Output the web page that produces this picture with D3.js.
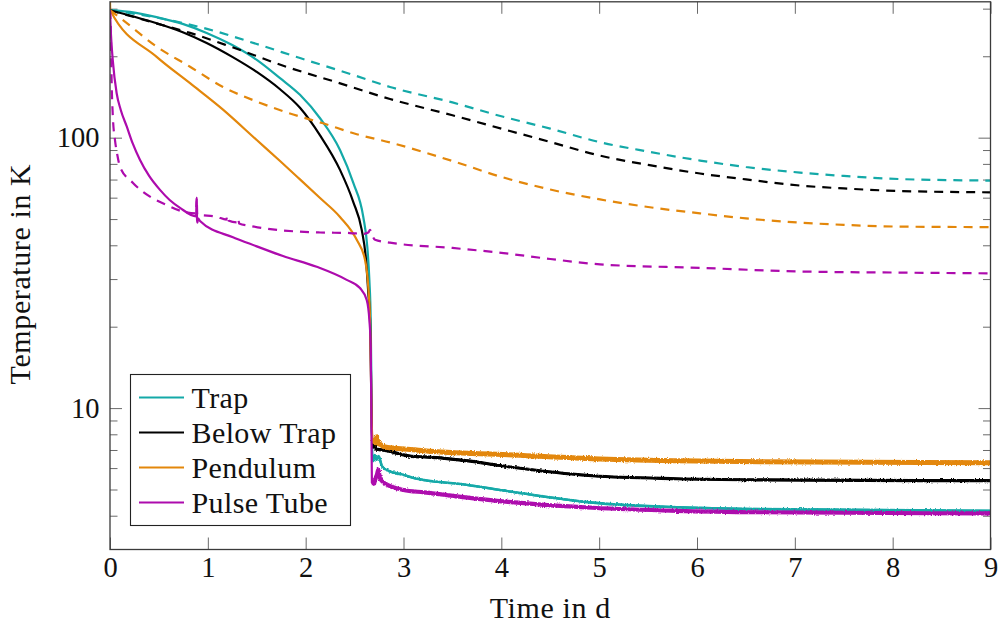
<!DOCTYPE html>
<html>
<head>
<meta charset="utf-8">
<script src="https://cdn.jsdelivr.net/npm/d3@7"></script>
<style>
  body { margin: 0; background: #fff; }
  svg { display: block; }
  text { font-family: "Liberation Serif", "Times New Roman", Times, Tinos, "Noto Serif", "DejaVu Serif", serif; fill: #111; }
</style>
</head>
<body>
<svg id="chart" width="998" height="628"></svg>
<script>
// Cool-down of the cryostat stages: temperature (K) against time (days).
// Solid lines: first run; dashed lines: reference run.

const xTicks = [0, 1, 2, 3, 4, 5, 6, 7, 8, 9];
const yMajorTicks = [10, 100];
const yMinorTicks = [4, 5, 6, 7, 8, 9, 20, 30, 40, 50, 60, 70, 80, 90, 200, 300];
const seriesNames = ["Trap", "Below Trap", "Pendulum", "Pulse Tube"];
const seriesColors = ["#14a9a8", "#000000", "#e3870b", "#ad0bad"];

// [time in d, temperature in K]
const trapSolid = [
  [0, 296], [0.25, 290], [0.477, 279], [0.75, 263], [0.988, 244], [1.25, 220], [1.5, 194],
  [1.738, 166], [1.942, 144], [2.147, 118], [2.351, 90], [2.487, 68], [2.589, 50.9],
  [2.630, 39.5], [2.651, 29.8], [2.665, 21.2], [2.672, 12], [2.678, 7.5],
  [2.688, 6.35], [2.705, 6.7], [2.725, 6.45], [2.745, 6.65], [2.78, 6.1], [2.842, 5.87],
  [2.995, 5.67], [3.118, 5.50], [3.639, 5.21], [4.068, 4.93], [4.932, 4.47], [5.793, 4.30],
  [6.654, 4.23], [9, 4.17]
];
const belowTrapSolid = [
  [0, 296], [0.25, 280], [0.477, 265], [0.75, 245], [0.988, 224], [1.25, 199], [1.5, 175],
  [1.738, 151], [1.942, 129], [2.147, 102], [2.351, 76], [2.487, 57.8], [2.573, 45.6],
  [2.617, 35.3], [2.640, 26.7], [2.658, 21.2], [2.668, 13], [2.675, 8.5],
  [2.688, 7.13], [2.70, 7.3], [2.72, 7.05], [2.78, 7.01], [3.118, 6.61], [3.21, 6.60],
  [3.639, 6.39], [4.068, 6.07], [4.932, 5.62], [5.793, 5.48], [6.654, 5.43], [9, 5.39]
];
const pendulumSolid = [
  [0, 318], [0.003, 296], [0.477, 199], [0.818, 159], [1.155, 127], [1.5, 98], [1.738, 82],
  [1.942, 70.1], [2.147, 59.8], [2.351, 50.9], [2.522, 41.9], [2.607, 35.3], [2.640, 28.1],
  [2.658, 21.2], [2.668, 13], [2.675, 8.8],
  [2.688, 7.44], [2.70, 7.6], [2.715, 7.45], [2.726, 7.83], [2.74, 7.4], [2.76, 7.35],
  [2.80, 7.2], [3.118, 7.01], [3.21, 6.95], [4.068, 6.72], [4.932, 6.50], [5.793, 6.39],
  [6.654, 6.33], [9, 6.28]
];
const pulseTubeSolid = [
  [0, 296], [0.01, 240], [0.028, 194], [0.068, 146], [0.11, 126.6], [0.171, 110],
  [0.23, 95.6], [0.307, 82.7], [0.40, 72.2], [0.511, 64.1], [0.61, 58.8], [0.716, 55.0],
  [0.880, 51.2], [0.886, 60], [0.890, 49.5], [0.894, 48.5], [0.900, 50.3], [0.920, 49.2],
  [1.257, 42.8], [1.431, 40.5], [1.768, 36.5], [2.113, 33.3], [2.419, 29.8], [2.555, 27.8],
  [2.624, 25.1], [2.651, 21.2], [2.665, 16.8], [2.672, 9.0],
  [2.677, 5.3], [2.696, 5.2], [2.715, 5.5], [2.730, 5.7], [2.743, 5.92], [2.76, 5.5],
  [2.811, 5.26], [3.0, 4.98], [3.21, 4.88], [4.068, 4.50], [4.932, 4.28], [5.793, 4.17],
  [6.654, 4.12], [9, 4.08]
];

const trapDashed = [
  [0, 296], [0.5, 277], [1.0, 252], [1.5, 222], [1.942, 197], [2.5, 170], [2.862, 154],
  [3.5, 135], [4.0, 120], [4.5, 108], [5.009, 96.2], [5.5, 88.8], [6.031, 82.3],
  [6.5, 77.9], [7.053, 74.3], [7.5, 72.2], [8.075, 70.3], [9, 69.4]
];
const belowTrapDashed = [
  [0, 296], [0.5, 263], [0.818, 244], [1.25, 216], [1.8, 183], [2.3, 161], [2.862, 139],
  [3.5, 121], [4.0, 108], [4.5, 96.4], [5.009, 85.8], [5.5, 79.3], [6.031, 73.7],
  [6.5, 70.1], [7.053, 66.5], [7.5, 64.9], [8.075, 63.5], [9, 62.8]
];
const pendulumDashed = [
  [0, 296], [0.133, 272], [0.477, 217], [0.818, 183], [1.155, 154], [1.5, 136],
  [1.806, 124], [2.177, 113], [2.522, 103], [2.862, 96], [3.5, 82], [4.0, 71.6],
  [4.5, 64.3], [5.009, 59.1], [5.5, 55.4], [6.031, 52.5], [6.5, 50.3], [7.053, 48.5],
  [7.5, 47.6], [8.075, 46.9], [9, 46.7]
];
const pulseTubeDashed = [
  [0, 296], [0.008, 250], [0.017, 159], [0.03, 118], [0.051, 98], [0.075, 86.3],
  [0.102, 78.1], [0.235, 68], [0.409, 60.5], [0.579, 56.4], [0.746, 53.3], [0.880, 52.5],
  [0.886, 59.8], [0.892, 52], [1.091, 51], [1.19, 49.8], [1.20, 51.6], [1.21, 49.4],
  [1.30, 48.6], [1.31, 50.2], [1.32, 48.2], [1.431, 47.2], [1.942, 44.9], [2.147, 44.6],
  [2.453, 44.4], [2.589, 44.1], [2.640, 44.6], [2.658, 45.6], [2.675, 44.0], [2.709, 41.9],
  [2.862, 40.9], [3.5, 39.1], [4.0, 37.5], [4.5, 35.6], [5.009, 34.0], [6.031, 33.0],
  [7.053, 32.0], [8.075, 31.7], [9, 31.5]
];

// time after which the sensor readings are noisy (cold phase)
const noisyFrom = 2.685;
const noisyWidths = [2.6, 3.2, 5.0, 4.2];

const solidSeries = [trapSolid, belowTrapSolid, pendulumSolid, pulseTubeSolid];
const dashedSeries = [trapDashed, belowTrapDashed, pendulumDashed, pulseTubeDashed];

const W = 998, H = 628;
const plot = { left: 110, right: 990.5, top: 1.8, bottom: 549.5 };
const FONT = '"Liberation Serif", "Times New Roman", Times, Tinos, "Noto Serif", "DejaVu Serif", serif';

const svg = d3.select("#chart");

const x = d3.scaleLinear().domain([0, 9]).range([plot.left, plot.right]);
const y = d3.scaleLog().domain([3, 318]).range([plot.bottom, plot.top]);

const defs = svg.append("defs");
defs.append("clipPath").attr("id", "plotClip")
  .append("rect")
  .attr("x", plot.left).attr("y", plot.top)
  .attr("width", plot.right - plot.left).attr("height", plot.bottom - plot.top);

const rough = defs.append("filter").attr("id", "rough")
  .attr("filterUnits", "userSpaceOnUse")
  .attr("x", 0).attr("y", 0).attr("width", W).attr("height", H);
rough.append("feTurbulence").attr("type", "fractalNoise")
  .attr("baseFrequency", "0.9 0.6").attr("numOctaves", 2).attr("seed", 3).attr("result", "n");
rough.append("feDisplacementMap").attr("in", "SourceGraphic").attr("in2", "n")
  .attr("scale", 3).attr("xChannelSelector", "R").attr("yChannelSelector", "G");

const line = d3.line().curve(d3.curveMonotoneX).x(d => x(d[0])).y(d => y(d[1]));

const tickColor = "#6a6a6a";

// ticks on all four sides, pointing inwards
function styleAxis(g) {
  g.attr("font-family", FONT);
  g.select(".domain").remove();
  g.selectAll(".tick line").attr("stroke", tickColor).attr("stroke-width", 1);
  g.selectAll(".tick text").attr("fill", "#111").attr("font-size", 28.5)
    .attr("font-family", FONT);
}

svg.append("g").attr("transform", `translate(0,${plot.bottom})`)
  .call(d3.axisBottom(x).tickValues(xTicks).tickSize(-12).tickPadding(7).tickFormat(d3.format("d")))
  .call(styleAxis);
svg.append("g").attr("transform", `translate(0,${plot.top})`)
  .call(d3.axisTop(x).tickValues(xTicks).tickSize(-12).tickFormat(""))
  .call(styleAxis);

svg.append("g").attr("transform", `translate(${plot.left},0)`)
  .call(d3.axisLeft(y).tickValues(yMajorTicks).tickSize(-12).tickPadding(10.5).tickFormat(d3.format("d")))
  .call(styleAxis);
svg.append("g").attr("transform", `translate(${plot.left},0)`)
  .call(d3.axisLeft(y).tickValues(yMinorTicks).tickSize(-7.5).tickFormat(""))
  .call(styleAxis);
svg.append("g").attr("transform", `translate(${plot.right},0)`)
  .call(d3.axisRight(y).tickValues(yMajorTicks).tickSize(-12).tickFormat(""))
  .call(styleAxis);
svg.append("g").attr("transform", `translate(${plot.right},0)`)
  .call(d3.axisRight(y).tickValues(yMinorTicks).tickSize(-7.5).tickFormat(""))
  .call(styleAxis);

const curves = svg.append("g").attr("clip-path", "url(#plotClip)");

solidSeries.forEach((data, i) => {
  curves.append("path").datum(data)
    .attr("fill", "none").attr("stroke", seriesColors[i])
    .attr("stroke-width", 2.2).attr("stroke-linejoin", "round")
    .attr("d", line);
  // noisy band of the cold-phase readings
  const cold = data.filter(d => d[0] >= noisyFrom);
  curves.append("path").datum(cold)
    .attr("fill", "none").attr("stroke", seriesColors[i])
    .attr("stroke-width", noisyWidths[i]).attr("stroke-linejoin", "round")
    .attr("filter", "url(#rough)")
    .attr("d", line);
});

dashedSeries.forEach((data, i) => {
  curves.append("path").datum(data)
    .attr("fill", "none").attr("stroke", seriesColors[i])
    .attr("stroke-width", 2.2).attr("stroke-dasharray", "9 7")
    .attr("stroke-linejoin", "round")
    .attr("d", line);
});

// frame
svg.append("rect")
  .attr("x", plot.left).attr("y", plot.top)
  .attr("width", plot.right - plot.left).attr("height", plot.bottom - plot.top)
  .attr("fill", "none").attr("stroke", "#3a3a3a").attr("stroke-width", 1.3);

// axis labels
svg.append("text")
  .attr("x", (plot.left + plot.right) / 2).attr("y", 618)
  .attr("text-anchor", "middle").attr("font-family", FONT)
  .attr("font-size", 30).attr("letter-spacing", 0.6)
  .text("Time in d");
svg.append("text")
  .attr("transform", `translate(30,274) rotate(-90)`)
  .attr("text-anchor", "middle").attr("font-family", FONT)
  .attr("font-size", 30).attr("letter-spacing", 0.6)
  .text("Temperature in K");

// legend
const legend = svg.append("g");
legend.append("rect")
  .attr("x", 130.5).attr("y", 374.5).attr("width", 220).attr("height", 151)
  .attr("fill", "#fff").attr("stroke", "#222").attr("stroke-width", 1.1);
const rowY = d3.scalePoint().domain(seriesNames).range([397.5, 502.5]);
seriesNames.forEach((name, i) => {
  const yy = rowY(name);
  legend.append("line")
    .attr("x1", 139).attr("x2", 184).attr("y1", yy).attr("y2", yy)
    .attr("stroke", seriesColors[i]).attr("stroke-width", 2.2);
  legend.append("text")
    .attr("x", 191.5).attr("y", yy + 10)
    .attr("font-family", FONT)
    .attr("font-size", 30).attr("letter-spacing", 0.4)
    .text(name);
});
</script>
</body>
</html>
